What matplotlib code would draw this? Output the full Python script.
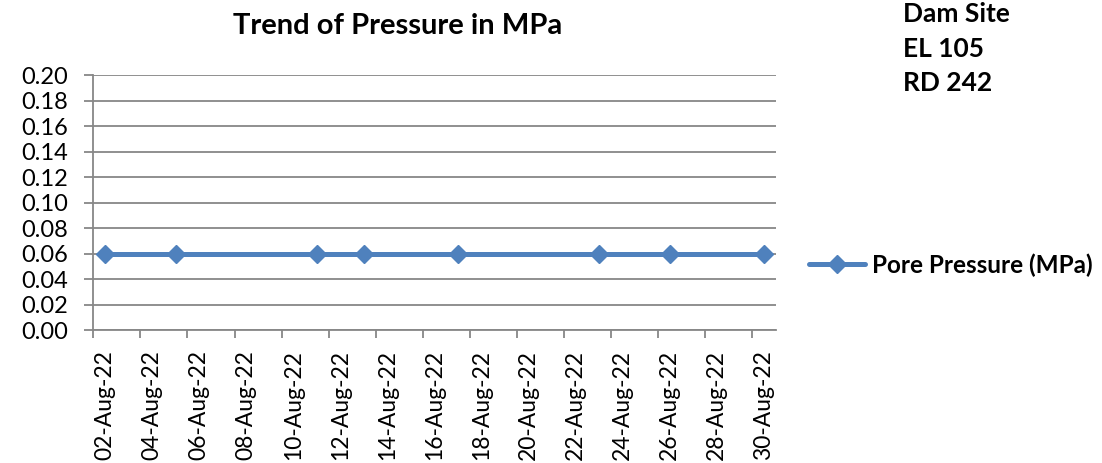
import datetime as dt
import matplotlib
matplotlib.use("Agg")
import matplotlib.pyplot as plt

plt.rcParams['font.family'] = ['Lato', 'DejaVu Sans']

# Readings
read_dates = ["2022-08-02", "2022-08-05", "2022-08-11", "2022-08-13",
              "2022-08-17", "2022-08-23", "2022-08-26", "2022-08-30"]
pore_pressure = [0.06, 0.06, 0.06, 0.06, 0.06, 0.06, 0.06, 0.06]

y_ticks = [0.00, 0.02, 0.04, 0.06, 0.08, 0.10, 0.12, 0.14, 0.16, 0.18, 0.20]
label_days = list(range(2, 31, 2))

dates = [dt.datetime.strptime(d, "%Y-%m-%d") for d in read_dates]
half = dt.timedelta(hours=12)
start = dt.datetime(2022, 8, 2) - half
end = dt.datetime(2022, 8, 30) + half

fig = plt.figure(figsize=(11.02, 4.63), dpi=100)
ax = fig.add_axes([0.0847, 0.2866, 0.6192, 0.5514])

grid_col = "#878787"
blue = "#4F81BD"

ax.plot(dates, pore_pressure, color=blue, linewidth=3.6, marker="D",
        markersize=9, markerfacecolor=blue, markeredgecolor=blue,
        label="Pore Pressure (MPa)", zorder=3, solid_capstyle="round")

ax.set_xlim(start, end)
ax.set_ylim(0, 0.20)
ax.set_yticks(y_ticks)
ax.set_yticklabels([f"{v:.2f}" for v in y_ticks])
ax.yaxis.grid(True, color=grid_col, linewidth=1.3)
ax.set_axisbelow(True)

# tick marks sit between days, labels sit on the days
tick_marks = [dt.datetime(2022, 8, d) - half for d in label_days]
label_pos = [dt.datetime(2022, 8, d) for d in label_days]
ax.set_xticks(tick_marks)
ax.set_xticklabels([])
ax.set_xticks(label_pos, minor=True)
ax.set_xticklabels([p.strftime("%d-%b-%y") for p in label_pos], minor=True,
                   rotation=90)
ax.tick_params(axis="x", which="major", length=6, width=1.3, color=grid_col)
ax.tick_params(axis="x", which="minor", length=0, pad=14, labelsize=16.5)
ax.tick_params(axis="y", length=6.5, width=1.3, color=grid_col, labelsize=17,
               pad=12)

for s in ["top", "right"]:
    ax.spines[s].set_visible(False)
for s in ["left", "bottom"]:
    ax.spines[s].set_color(grid_col)
    ax.spines[s].set_linewidth(1.3)

fig.text(0.3607, 0.944, "Trend of Pressure in MPa", ha="center", va="center",
         fontsize=21, fontweight="bold")
fig.text(0.8195, 0.995, "Dam Site\nEL 105\nRD 242", ha="left", va="top",
         fontsize=19, fontweight="bold", linespacing=1.52)

ax.legend(loc="center left", bbox_to_anchor=(1.035, 0.255), frameon=False,
          prop={"weight": "bold", "size": 17.5}, handlelength=2.3,
          handletextpad=0.3, borderaxespad=0)

fig.savefig("out.png", dpi=100)
